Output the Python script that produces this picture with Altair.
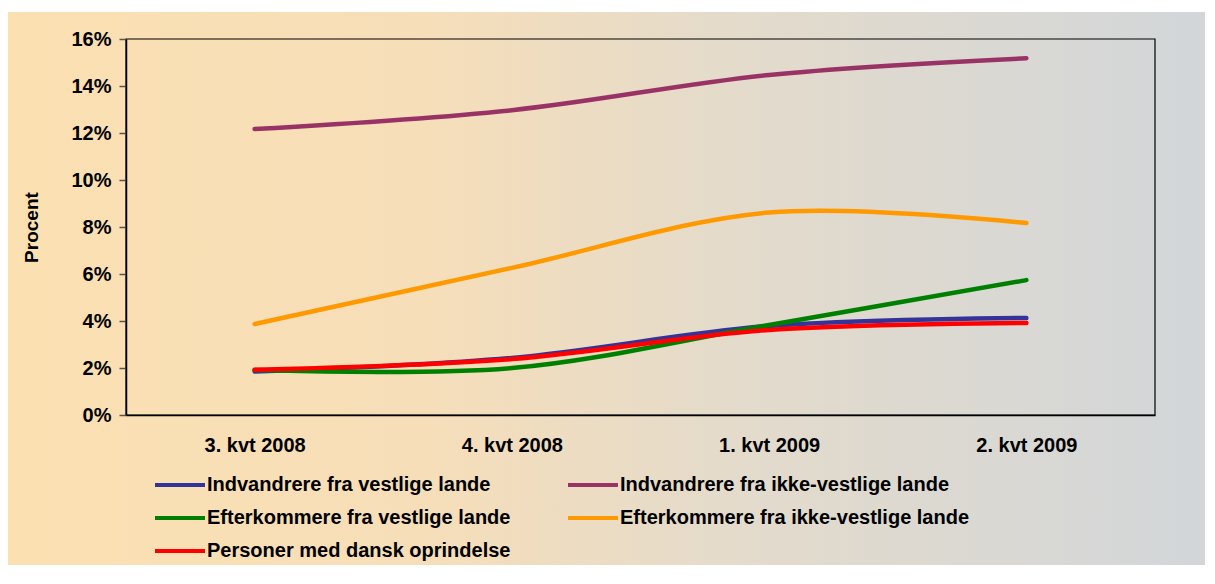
import altair as alt
import pandas as pd

quarters = ["3. kvt 2008", "4. kvt 2008", "1. kvt 2009", "2. kvt 2009"]

series_names = [
    "Indvandrere fra ikke-vestlige lande",
    "Efterkommere fra ikke-vestlige lande",
    "Indvandrere fra vestlige lande",
    "Efterkommere fra vestlige lande",
    "Personer med dansk oprindelse",
]
indv_ikke_vest = [0.1217, 0.1297, 0.1447, 0.1518]
efterk_ikke_vest = [0.0387, 0.0626, 0.0862, 0.0817]
indv_vest = [0.0185, 0.0243, 0.0379, 0.0413]
efterk_vest = [0.0191, 0.0200, 0.0383, 0.0574]
dansk = [0.0193, 0.0238, 0.0362, 0.0392]

# legend entries are laid out column by column
legend_order = [
    "Indvandrere fra vestlige lande",
    "Efterkommere fra vestlige lande",
    "Personer med dansk oprindelse",
    "Indvandrere fra ikke-vestlige lande",
    "Efterkommere fra ikke-vestlige lande",
]
legend_colors = ["#333399", "#008000", "#FF0000", "#993366", "#FF9900"]

all_values = [indv_ikke_vest, efterk_ikke_vest, indv_vest, efterk_vest, dansk]
rows = []
for name, vals in zip(series_names, all_values):
    for q, v in zip(quarters, vals):
        rows.append({"Kvartal": q, "Gruppe": name, "Andel": v})
df = pd.DataFrame(rows)

W, H = 1029, 376
PL, PT, PR, PB = 118, 31, 50, 150
FONT = "Liberation Sans"

one = pd.DataFrame({"a": [0]})

bg = alt.Chart(one).mark_rect(
    clip=False,
    color=alt.Gradient(
        gradient="linear",
        x1=0, x2=1, y1=0, y2=0,
        stops=[
            alt.GradientStop(offset=0.0, color="#FBE0B1"),
            alt.GradientStop(offset=0.35, color="#F6DEB9"),
            alt.GradientStop(offset=0.6, color="#E4DBCB"),
            alt.GradientStop(offset=1.0, color="#D2D6D9"),
        ],
    ),
).encode(
    x=alt.value(-PL), x2=alt.value(W + PR),
    y=alt.value(-27), y2=alt.value(H + PB),
)

frame = alt.Chart(one).mark_rect(
    filled=False, stroke="#000", strokeWidth=1.2, clip=False
).encode(
    x=alt.value(0), x2=alt.value(W), y=alt.value(0), y2=alt.value(H),
)

lines = alt.Chart(df).mark_line(
    interpolate="catmull-rom", strokeWidth=4.5, strokeCap="round"
).encode(
    x=alt.X("Kvartal:N", sort=quarters, scale=alt.Scale(paddingInner=0, paddingOuter=0, align=0.5),
            axis=alt.Axis(title=None, ticks=False, labelAngle=0, labelPadding=20,
                          labelFontSize=20, labelFontWeight="bold", labelFont=FONT,
                          labelColor="#000", domainColor="#000", domainWidth=1.5, zindex=1)),
    y=alt.Y("Andel:Q", scale=alt.Scale(domain=[0, 0.16], nice=False),
            axis=alt.Axis(title="Procent", format=".0%", values=[i * 0.02 for i in range(9)],
                          tickSize=7, tickColor="#555", tickWidth=1.5, labelPadding=8,
                          labelFontSize=20, labelFontWeight="bold", labelFont=FONT,
                          labelColor="#000", titleFontSize=19, titleFontWeight="bold",
                          titleFont=FONT, titleColor="#000", titlePadding=29,
                          domainColor="#000", domainWidth=1.5, grid=False, zindex=1)),
    color=alt.Color("Gruppe:N", scale=alt.Scale(domain=legend_order, range=legend_colors),
                    legend=alt.Legend(title=None, orient="none", legendX=27, legendY=434,
                                      columns=2, columnPadding=49, rowPadding=11,
                                      symbolType="M-1,0H4", symbolSize=400, symbolStrokeWidth=4,
                                      symbolFillColor="transparent",
                                      labelOffset=30, labelFontSize=20, labelFontWeight="bold",
                                      labelFont=FONT, labelColor="#000", labelLimit=500,
                                      padding=0)),
)

chart = alt.layer(bg, frame, lines).properties(
    width=W, height=H,
    autosize=alt.AutoSizeParams(type="none"),
    padding={"left": PL, "top": PT, "right": PR, "bottom": PB},
    background="white",
).configure_view(stroke=None)

chart.save("out.html", embed_options={"renderer": "svg", "actions": False})
